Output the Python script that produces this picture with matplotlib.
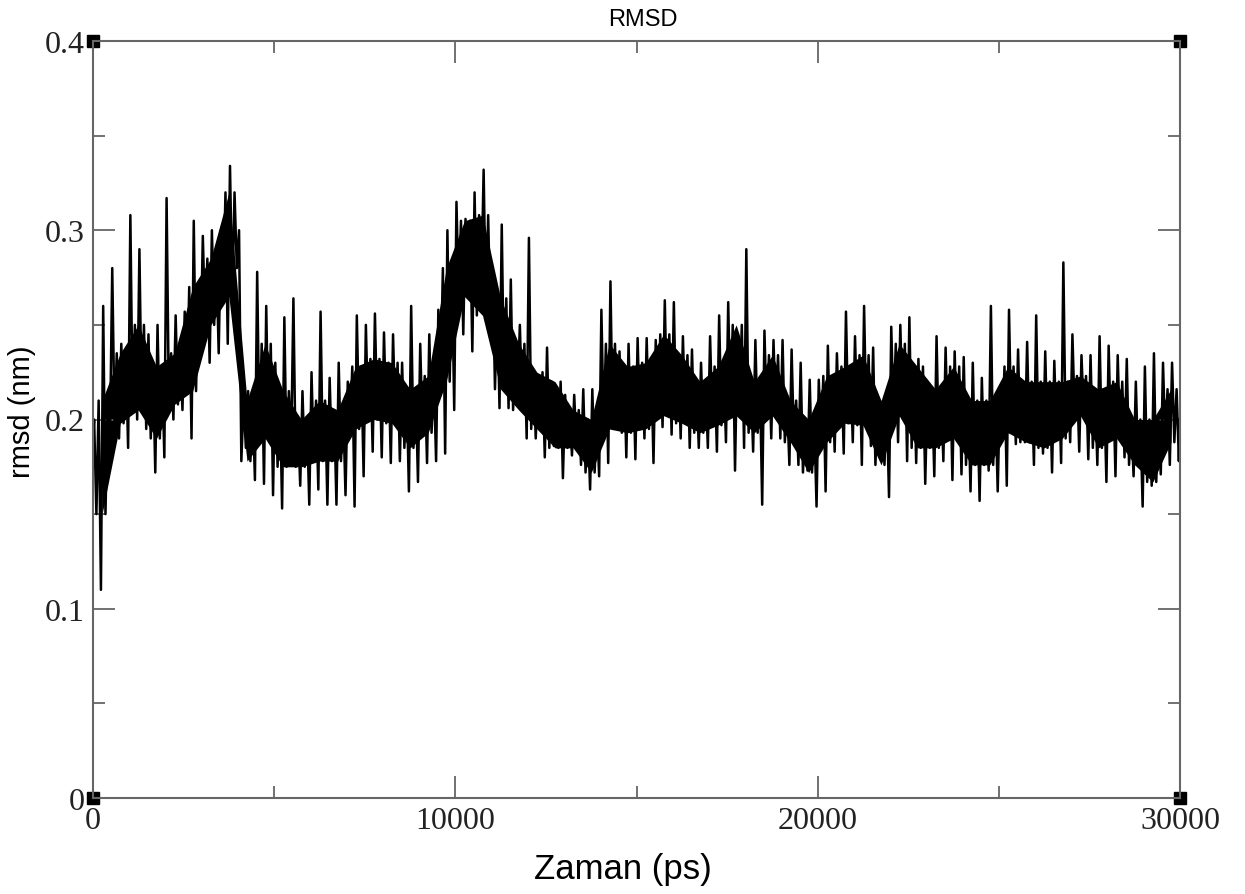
import numpy as np
import matplotlib
matplotlib.use('Agg')
import matplotlib.pyplot as plt
from matplotlib.ticker import MultipleLocator, FuncFormatter

# time axis (ps), bins of 250 ps
bin_start = np.arange(0, 30000, 250)

# upper / lower extremes of rmsd (nm) in each 250 ps bin
rmsd_hi = [0.20, 0.26, 0.28, 0.24, 0.308, 0.29, 0.245, 0.25, 0.317, 0.255, 0.257, 0.305,
           0.297, 0.30, 0.30, 0.334, 0.30, 0.215, 0.278, 0.26, 0.23, 0.254, 0.264, 0.215,
           0.225, 0.257, 0.222, 0.23, 0.22, 0.255, 0.25, 0.256, 0.246, 0.245, 0.23, 0.26,
           0.24, 0.245, 0.258, 0.30, 0.315, 0.306, 0.32, 0.332, 0.28, 0.303, 0.274, 0.25,
           0.296, 0.22, 0.238, 0.215, 0.213, 0.213, 0.216, 0.216, 0.258, 0.273, 0.236, 0.24,
           0.243, 0.243, 0.242, 0.263, 0.262, 0.244, 0.237, 0.23, 0.244, 0.255, 0.262, 0.24,
           0.29, 0.242, 0.247, 0.242, 0.242, 0.237, 0.23, 0.221, 0.221, 0.239, 0.235, 0.257,
           0.244, 0.26, 0.238, 0.205, 0.249, 0.25, 0.254, 0.232, 0.218, 0.244, 0.238, 0.236,
           0.233, 0.23, 0.222, 0.26, 0.215, 0.258, 0.237, 0.241, 0.255, 0.236, 0.231, 0.283,
           0.245, 0.234, 0.234, 0.244, 0.239, 0.234, 0.232, 0.22, 0.228, 0.235, 0.23, 0.23]
rmsd_lo = [0.11, 0.19, 0.19, 0.185, 0.20, 0.195, 0.172, 0.18, 0.20, 0.205, 0.19, 0.235,
           0.23, 0.235, 0.24, 0.28, 0.185, 0.168, 0.166, 0.16, 0.153, 0.185, 0.165, 0.155,
           0.163, 0.155, 0.155, 0.16, 0.154, 0.17, 0.183, 0.18, 0.177, 0.178, 0.162, 0.167,
           0.177, 0.178, 0.182, 0.205, 0.245, 0.236, 0.27, 0.25, 0.206, 0.206, 0.215, 0.19,
           0.19, 0.18, 0.186, 0.169, 0.181, 0.176, 0.163, 0.17, 0.177, 0.195, 0.18, 0.179,
           0.19, 0.177, 0.196, 0.192, 0.19, 0.185, 0.185, 0.185, 0.183, 0.188, 0.173, 0.185,
           0.183, 0.155, 0.19, 0.19, 0.176, 0.176, 0.173, 0.154, 0.162, 0.183, 0.182, 0.188,
           0.176, 0.186, 0.181, 0.159, 0.188, 0.178, 0.177, 0.166, 0.17, 0.178, 0.168, 0.171,
           0.162, 0.157, 0.173, 0.162, 0.165, 0.187, 0.188, 0.176, 0.182, 0.172, 0.177, 0.188,
           0.183, 0.179, 0.176, 0.167, 0.17, 0.18, 0.17, 0.154, 0.165, 0.171, 0.176, 0.178]

# dense core of the trace, 500 ps bins
core_lo = [0.15, 0.198, 0.205, 0.19, 0.208, 0.215, 0.25, 0.265, 0.178, 0.19, 0.175, 0.175,
           0.178, 0.178, 0.195, 0.2, 0.198, 0.185, 0.193, 0.22, 0.265, 0.255, 0.216, 0.205,
           0.195, 0.185, 0.185, 0.172, 0.195, 0.193, 0.195, 0.202, 0.198, 0.193, 0.197, 0.202,
           0.193, 0.202, 0.188, 0.172, 0.188, 0.198, 0.197, 0.176, 0.202, 0.185, 0.185, 0.19,
           0.176, 0.176, 0.193, 0.188, 0.185, 0.19, 0.202, 0.185, 0.19, 0.176, 0.167, 0.188]
core_hi = [0.21, 0.235, 0.25, 0.228, 0.235, 0.27, 0.285, 0.32, 0.21, 0.24, 0.215, 0.2,
           0.21, 0.205, 0.228, 0.232, 0.23, 0.216, 0.223, 0.28, 0.305, 0.308, 0.264, 0.24,
           0.225, 0.22, 0.205, 0.2, 0.24, 0.228, 0.23, 0.245, 0.234, 0.22, 0.228, 0.25,
           0.22, 0.234, 0.21, 0.2, 0.223, 0.228, 0.234, 0.21, 0.24, 0.228, 0.216, 0.228,
           0.21, 0.21, 0.228, 0.22, 0.22, 0.22, 0.223, 0.216, 0.22, 0.2, 0.2, 0.216]

# each 250 ps bin: spike up, core low, core high, spike down
n = len(bin_start)
c_lo = np.repeat(core_lo, 2)
c_hi = np.repeat(core_hi, 2)
t = np.empty(4 * n)
r = np.empty(4 * n)
t[0::4] = bin_start + 31
t[1::4] = bin_start + 94
t[2::4] = bin_start + 156
t[3::4] = bin_start + 219
r[0::4] = rmsd_hi
r[1::4] = c_lo
r[2::4] = c_hi
r[3::4] = rmsd_lo
t = np.concatenate([[0], t, [30000]])
r = np.concatenate([[0.19], r, [0.20]])

fig = plt.figure(figsize=(12.45, 8.95), dpi=100)
ax = fig.add_axes([93 / 1245, 96 / 895, 1087 / 1245, 757 / 895])

core_t = np.arange(250, 30000, 500)
ax.fill_between(core_t, core_lo, core_hi, color='black', lw=0)
ax.plot(t, r, color='black', lw=1.8)

frame = '#666666'
ax.set_xlim(0, 30000)
ax.set_ylim(0, 0.4)
ax.xaxis.set_major_locator(MultipleLocator(10000))
ax.xaxis.set_minor_locator(MultipleLocator(5000))
ax.yaxis.set_major_locator(MultipleLocator(0.1))
ax.yaxis.set_minor_locator(MultipleLocator(0.05))
ax.xaxis.set_major_formatter(FuncFormatter(lambda v, p: '%d' % v))
ax.yaxis.set_major_formatter(FuncFormatter(lambda v, p: '0' if v == 0 else '%.1f' % v))
ax.tick_params(which='both', direction='in', top=True, right=True, color=frame, width=1.3)
ax.tick_params(which='major', length=16)
ax.tick_params(which='minor', length=8.5)
ax.tick_params(axis='x', pad=6)
ax.tick_params(axis='y', pad=6)
for lab in ax.get_xticklabels() + ax.get_yticklabels():
    lab.set_fontfamily('Liberation Serif')
    lab.set_fontsize(23)
    lab.set_color('#222222')
for s in ax.spines.values():
    s.set_color(frame)
    s.set_linewidth(1.5)

# corner squares
ax.plot([0, 0, 30000, 30000], [0, 0.4, 0, 0.4], 's', color='black', ms=8.5, clip_on=False)

fig.text(643 / 1245, 1 - 20 / 895, 'RMSD', ha='center', va='center',
         fontfamily='Liberation Sans', fontsize=17)
fig.text(623 / 1245, 1 - 870 / 895, 'Zaman (ps)', ha='center', va='center',
         fontfamily='Liberation Sans', fontsize=25)
fig.text(22 / 1245, 1 - 412 / 895, 'rmsd (nm)', ha='center', va='center', rotation=90,
         fontfamily='Liberation Sans', fontsize=21)

fig.savefig('out.png', dpi=100)
